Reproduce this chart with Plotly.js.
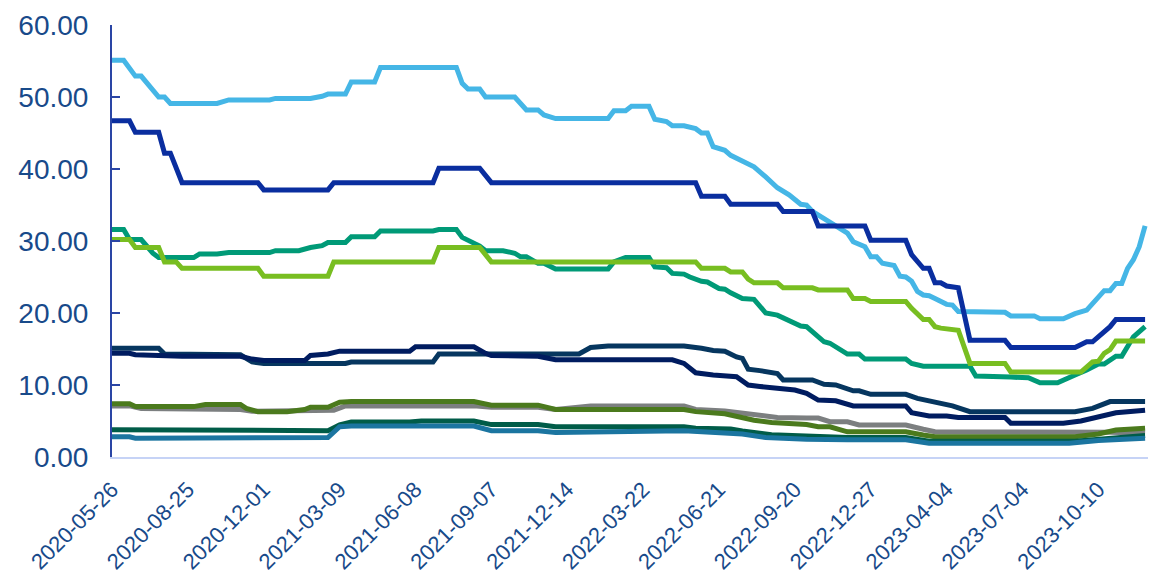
<!DOCTYPE html>
<html>
<head>
<meta charset="utf-8">
<script src="https://cdn.plot.ly/plotly-3.0.1.min.js"></script>
<style>
  html, body { margin: 0; padding: 0; background: #ffffff; }
  #chart { width: 1158px; height: 588px; }
</style>
</head>
<body>
<div id="chart"></div>
<script>
// Tick labels shown on the category axis (one every 13 weekly observations)
const tickLabels = ['2020-05-26','2020-08-25','2020-12-01','2021-03-09','2021-06-08','2021-09-07',
  '2021-12-14','2022-03-22','2022-06-21','2022-09-20','2022-12-27','2023-04-04','2023-07-04','2023-10-10'];
const weeksPerLabel = 13;
const weeksAfterLastLabel = 8;

// Series: breakpoints as (week index, value)
const lightBlueIdx = [0,2,4,5,8,9,10,18,20,27,28,34,36,37,40,41,45,46,59,60,61,63,64,69,71,73,74,76,85,86,88,89,92,93,95,96,98,100,101,102,103,105,106,109,110,112,114,116,118,119,120,122,124,126,127,129,130,131,132,134,135,136,137,138,139,140,141,143,144,145,153,154,158,159,163,165,167,168,170,171,172,173,174,175,176,177];
const lightBlueVal = [55.1,55.1,52.9,52.9,50.0,50.0,49.1,49.1,49.6,49.6,49.8,49.8,50.1,50.4,50.4,52.1,52.1,54.1,54.1,51.9,51.1,51.1,50.0,50.0,48.2,48.2,47.5,47.0,47.0,48.1,48.1,48.7,48.7,46.9,46.6,46.0,46.0,45.6,45.0,45.0,43.1,42.6,41.9,40.6,40.3,38.9,37.4,36.4,35.1,35.0,34.1,33.1,32.1,31.1,29.9,29.2,27.8,27.8,26.9,26.6,25.1,25.0,24.4,23.0,22.5,22.4,22.0,21.2,21.1,20.2,20.1,19.6,19.6,19.2,19.2,19.9,20.4,21.3,23.1,23.1,24.1,24.1,26.2,27.4,29.2,32.1];

const royalBlueIdx = [0,3,4,8,9,10,12,25,26,37,38,55,56,63,65,100,101,105,106,114,115,120,121,129,130,136,137,139,140,141,142,143,145,146,147,153,154,165,167,168,170,171,172,177];
const royalBlueVal = [46.7,46.7,45.1,45.1,42.2,42.2,38.1,38.1,37.1,37.1,38.1,38.1,40.1,40.1,38.1,38.1,36.2,36.2,35.1,35.1,34.1,34.1,32.1,32.1,30.1,30.1,28.1,26.2,26.2,24.2,24.2,23.75,23.5,19.5,16.2,16.2,15.2,15.2,16.0,16.0,17.3,18.1,19.1,19.1];

const tealIdx = [0,2,3,5,7,8,14,15,18,20,27,28,32,34,36,37,40,41,45,46,55,56,59,60,63,64,67,69,70,71,73,74,76,85,86,88,92,93,95,96,98,99,101,102,104,105,106,108,110,112,114,116,118,119,122,123,126,128,129,136,137,139,147,148,153,154,157,159,162,163,165,167,169,170,172,173,174,175,177];
const tealVal = [31.6,31.6,30.2,30.2,28.3,27.7,27.7,28.2,28.2,28.4,28.4,28.65,28.65,29.1,29.35,29.8,29.8,30.6,30.6,31.4,31.4,31.6,31.6,30.5,29.3,28.65,28.65,28.3,27.8,27.8,26.9,26.9,26.1,26.1,27.1,27.7,27.7,26.4,26.3,25.5,25.4,25.0,24.4,24.3,23.4,23.3,22.8,22.0,21.9,20.0,19.7,18.9,18.2,18.1,16.0,15.8,14.3,14.3,13.6,13.6,13.0,12.6,12.6,11.25,11.25,11.1,11.0,10.3,10.3,10.7,11.4,12.1,12.9,12.9,14.0,14.0,15.3,16.7,18.1];

const limeIdx = [0,3,4,8,9,11,12,25,26,37,38,55,56,63,65,100,101,105,106,108,109,110,114,115,120,121,126,127,129,130,136,137,139,140,141,142,145,146,147,153,154,166,168,169,170,171,172,177];
const limeVal = [30.2,30.2,29.1,29.1,27.1,27.1,26.2,26.2,25.1,25.1,27.1,27.1,29.1,29.1,27.1,27.1,26.2,26.2,25.7,25.7,24.7,24.2,24.2,23.5,23.5,23.2,23.2,22.0,22.0,21.6,21.6,20.65,19.1,19.1,18.1,17.9,17.6,15.3,13.0,13.0,11.8,11.8,13.2,13.3,14.4,14.9,16.1,16.1];

const navyAIdx = [0,8,9,22,24,26,40,41,55,56,80,82,85,98,101,103,105,107,108,109,111,114,115,120,122,124,127,128,130,136,138,140,143,144,147,165,168,169,171,177];
const navyAVal = [15.1,15.1,14.3,14.2,13.2,13.0,13.0,13.2,13.2,14.3,14.3,15.2,15.4,15.4,15.1,14.8,14.7,13.9,13.7,12.2,12.0,11.6,10.7,10.7,10.1,10.0,9.2,9.2,8.7,8.7,8.15,7.8,7.2,7.1,6.3,6.3,6.75,7.1,7.7,7.7];

const navyBIdx = [0,3,4,12,22,24,26,33,34,37,39,51,52,62,64,65,73,76,96,98,100,102,103,107,109,111,115,117,119,121,124,127,136,137,140,143,145,153,154,163,166,169,172,177];
const navyBVal = [14.4,14.4,14.2,14.0,14.0,13.6,13.4,13.4,14.1,14.3,14.7,14.7,15.3,15.3,14.4,14.1,14.0,13.5,13.5,13.0,11.7,11.6,11.4,11.15,10.0,9.8,9.4,9.3,8.85,7.9,7.8,7.1,7.1,6.15,5.7,5.7,5.5,5.5,4.7,4.7,5.0,5.5,6.15,6.5];

const grayIdx = [0,3,5,14,22,24,30,33,38,40,62,65,73,76,82,98,100,105,108,111,114,119,121,123,126,128,136,139,141,171,177];
const grayVal = [7.1,7.1,6.75,6.75,6.6,6.35,6.35,6.5,6.5,7.1,7.1,6.9,6.9,6.6,7.1,7.1,6.6,6.4,6.1,5.7,5.5,5.4,5.4,4.9,4.9,4.45,4.45,3.85,3.5,3.45,3.3];

const oliveIdx = [0,3,4,14,16,22,23,25,30,33,34,37,39,41,62,65,73,76,98,100,105,108,110,113,119,121,123,126,136,139,141,165,169,172,177];
const oliveVal = [7.4,7.4,7.0,7.0,7.3,7.3,6.75,6.3,6.3,6.6,6.9,6.9,7.6,7.7,7.7,7.2,7.2,6.6,6.6,6.3,6.0,5.5,5.1,4.8,4.5,4.2,4.2,3.5,3.5,3.05,2.8,2.8,3.2,3.75,4.0];

const darkGreenIdx = [0,3,4,14,16,22,24,37,39,41,51,53,62,65,73,76,98,100,106,108,113,119,126,136,140,165,170,177];
const darkGreenVal = [3.8,3.8,3.65,3.65,3.8,3.8,3.65,3.65,4.45,4.85,4.85,5.0,5.0,4.5,4.5,4.2,4.2,4.0,3.9,3.6,3.1,2.9,2.7,2.7,2.2,2.2,2.6,3.0];

const tealBlueIdx = [0,3,4,14,16,37,39,41,62,65,73,76,98,100,108,112,119,126,136,140,164,169,177];
const tealBlueVal = [2.8,2.8,2.6,2.6,2.7,2.7,4.2,4.3,4.3,3.65,3.65,3.4,3.65,3.55,3.2,2.7,2.45,2.4,2.4,1.9,1.9,2.3,2.6];

// Weekly category list, anchored on the tick labels
function addDays(s, d) {
  const t = new Date(s + 'T00:00:00Z');
  t.setUTCDate(t.getUTCDate() + d);
  return t.toISOString().slice(0, 10);
}
const weeks = [];
tickLabels.forEach((lab, j) => {
  const n = j < tickLabels.length - 1 ? weeksPerLabel : weeksAfterLastLabel + 1;
  for (let k = 0; k < n; k++) weeks.push(addDays(lab, 7 * k));
});

const seriesDefs = [
  {idx: lightBlueIdx, val: lightBlueVal, color: '#45b6e6'},
  {idx: royalBlueIdx, val: royalBlueVal, color: '#0a2e9f'},
  {idx: tealIdx, val: tealVal, color: '#009a77'},
  {idx: limeIdx, val: limeVal, color: '#78be21'},
  {idx: navyAIdx, val: navyAVal, color: '#06365f'},
  {idx: navyBIdx, val: navyBVal, color: '#001c60'},
  {idx: grayIdx, val: grayVal, color: '#7c7f80'},
  {idx: oliveIdx, val: oliveVal, color: '#4b7a1d'},
  {idx: darkGreenIdx, val: darkGreenVal, color: '#005c48'},
  {idx: tealBlueIdx, val: tealBlueVal, color: '#1b75a0'}
];

const traces = [{
  x: weeks, y: weeks.map(() => null), mode: 'lines', showlegend: false,
  hoverinfo: 'skip', line: {width: 0}
}];
seriesDefs.forEach(s => {
  traces.push({
    x: s.idx.map(i => weeks[i]),
    y: s.val,
    mode: 'lines',
    line: {color: s.color, width: 5, shape: 'linear'},
    showlegend: false,
    hoverinfo: 'skip'
  });
});

const textColor = '#184a8a';
const layout = {
  width: 1158, height: 588,
  margin: {l: 112, r: 10, t: 25, b: 131},
  paper_bgcolor: '#ffffff', plot_bgcolor: '#ffffff',
  showlegend: false, hovermode: false,
  font: {family: 'Liberation Sans, Arial, sans-serif', color: textColor},
  xaxis: {
    type: 'category',
    categoryorder: 'array',
    categoryarray: weeks,
    range: [0, weeks.length - 0.5],
    tickmode: 'array',
    tickvals: tickLabels,
    ticktext: tickLabels,
    tickangle: -45,
    tickfont: {size: 22, color: textColor, family: 'Liberation Sans, Arial, sans-serif'},
    ticks: '',
    showgrid: false, zeroline: false,
    showline: true, linecolor: '#c6d3f6', linewidth: 2,
    ticklabelstandoff: 9
  },
  yaxis: {
    range: [0, 60],
    tickmode: 'array',
    tickvals: [0, 10, 20, 30, 40, 50, 60],
    tickformat: '.2f',
    tickfont: {size: 28, color: textColor, family: 'Liberation Sans, Arial, sans-serif'},
    ticks: 'inside', ticklen: 8, tickwidth: 2, tickcolor: '#2a45a5',
    showgrid: false, zeroline: false,
    showline: true, linecolor: '#2a45a5', linewidth: 2,
    ticklabelstandoff: 16
  }
};

Plotly.newPlot('chart', traces, layout, {staticPlot: true, displayModeBar: false});
</script>
</body>
</html>
